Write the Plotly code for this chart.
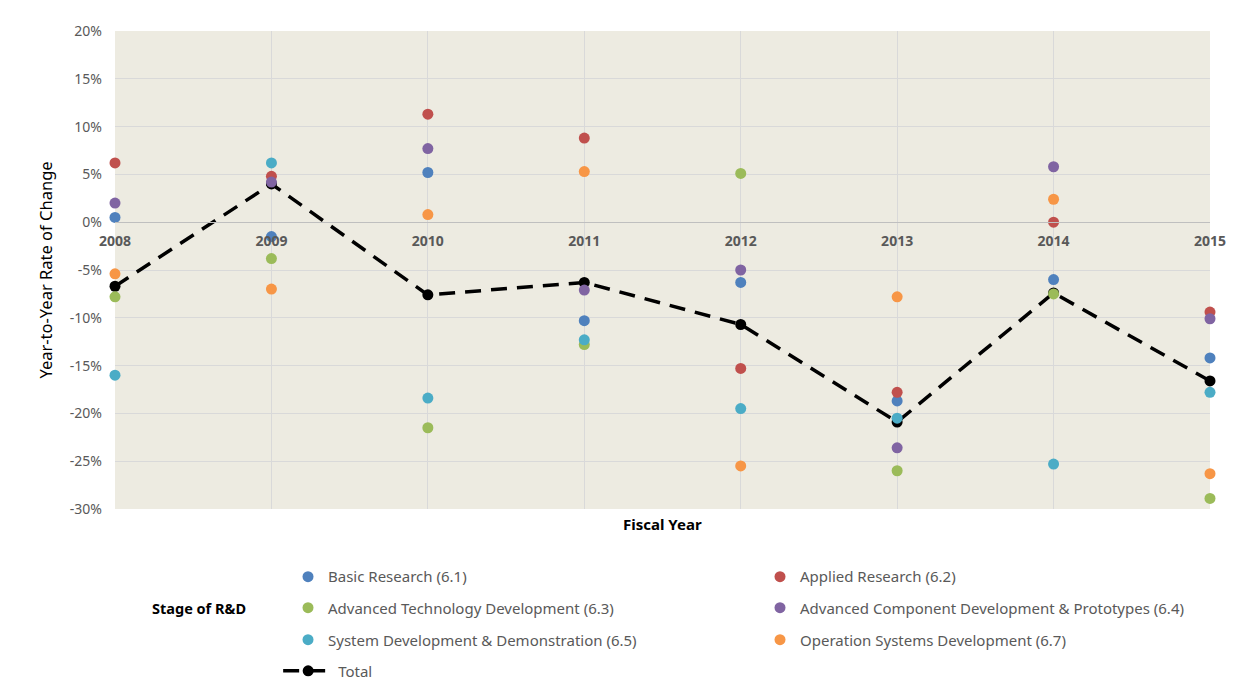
import plotly.graph_objects as go

# fiscal years on the x axis
years = [2008, 2009, 2010, 2011, 2012, 2013, 2014, 2015]

# year-to-year rate of change, in percent, by stage of R&D
basic_research = [0.5, -1.5, 5.2, -10.3, -6.3, -18.7, -6.0, -14.2]
applied_research = [6.2, 4.8, 11.3, 8.8, -15.3, -17.8, 0.0, -9.4]
adv_tech_dev = [-7.8, -3.8, -21.5, -12.8, 5.1, -26.0, -7.5, -28.9]
adv_component_dev = [2.0, 4.2, 7.7, -7.1, -5.0, -23.6, 5.8, -10.1]
system_dev = [-16.0, 6.2, -18.4, -12.3, -19.5, -20.5, -25.3, -17.8]
operation_dev = [-5.4, -7.0, 0.8, 5.3, -25.5, -7.8, 2.4, -26.3]
total = [-6.7, 4.0, -7.6, -6.3, -10.7, -20.9, -7.4, -16.6]

y_ticks = [20, 15, 10, 5, 0, -5, -10, -15, -20, -25, -30]

FONT = "Noto Sans"
GRAY = "#595959"

# (name, values, colour, legend row)
stages = [
    ("Basic Research (6.1)", basic_research, "#4F81BD", "legend"),
    ("Applied Research (6.2)", applied_research, "#C0504D", "legend"),
    ("Advanced Technology Development (6.3)", adv_tech_dev, "#9BBB59", "legend2"),
    ("Advanced Component Development & Prototypes (6.4)", adv_component_dev, "#8064A2", "legend2"),
    ("System Development & Demonstration (6.5)", system_dev, "#4BACC6", "legend3"),
    ("Operation Systems Development (6.7)", operation_dev, "#F79646", "legend3"),
]

fig = go.Figure()

# total drawn first so the stage markers sit on top of it
fig.add_trace(
    go.Scatter(
        x=years,
        y=total,
        mode="lines+markers",
        name="Total",
        line=dict(color="black", width=3.5, dash="16px,10px"),
        marker=dict(color="black", size=11),
        legend="legend4",
        cliponaxis=False,
    )
)

for name, values, color, leg in stages:
    fig.add_trace(
        go.Scatter(
            x=years,
            y=values,
            mode="markers",
            name=name,
            marker=dict(color=color, size=11),
            legend=leg,
            cliponaxis=False,
        )
    )

legend_common = dict(
    orientation="h",
    xanchor="left",
    yanchor="middle",
    entrywidth=427,
    entrywidthmode="pixels",
    font=dict(family=FONT, size=15, color=GRAY),
    bgcolor="rgba(0,0,0,0)",
    itemclick=False,
)

# the page body adds an 8px offset, so margins are trimmed by that much
fig.update_layout(
    width=1237,
    height=690,
    margin=dict(l=107, r=35, t=23, b=189, autoexpand=False),
    paper_bgcolor="white",
    plot_bgcolor="#EDEBE1",
    font=dict(family=FONT, color=GRAY),
    legend=dict(x=0.158, y=-0.142, **legend_common),
    legend2=dict(x=0.158, y=-0.207, **legend_common),
    legend3=dict(x=0.158, y=-0.274, **legend_common),
    legend4=dict(x=0.149, y=-0.339, itemwidth=50, **legend_common),
    xaxis=dict(
        range=[2008, 2015],
        tickmode="array",
        tickvals=years,
        ticktext=[str(y) for y in years],
        tickfont=dict(family=FONT, size=14, color=GRAY, weight="bold"),
        showgrid=True,
        gridcolor="#D9D9D9",
        gridwidth=1,
        zeroline=False,
        showline=True,
        linecolor="#BFBFBF",
        linewidth=1,
        anchor="free",
        position=0.6,
        ticks="",
        ticklabelstandoff=6,
        automargin=False,
    ),
    yaxis=dict(
        range=[-30, 20],
        tickmode="array",
        tickvals=y_ticks,
        ticktext=[f"{v}%" for v in y_ticks],
        tickfont=dict(family=FONT, size=14, color=GRAY),
        showgrid=True,
        gridcolor="#D9D9D9",
        gridwidth=1,
        zeroline=False,
        ticks="",
        ticklabelstandoff=12,
        automargin=False,
        title=dict(
            text="Year-to-Year Rate of Change",
            font=dict(family=FONT, size=16.5, color="black"),
            standoff=13,
        ),
    ),
    annotations=[
        dict(
            text="Fiscal Year",
            xref="paper",
            yref="paper",
            x=0.5,
            y=-0.006,
            xanchor="center",
            yanchor="top",
            showarrow=False,
            font=dict(family=FONT, size=15, color="black", weight="bold"),
        ),
        dict(
            text="Stage of R&D",
            xref="paper",
            yref="paper",
            x=0.032,
            y=-0.207,
            xanchor="left",
            yanchor="middle",
            showarrow=False,
            font=dict(family=FONT, size=14.5, color="black", weight="bold"),
        ),
    ],
)

fig.write_html("out.html")
